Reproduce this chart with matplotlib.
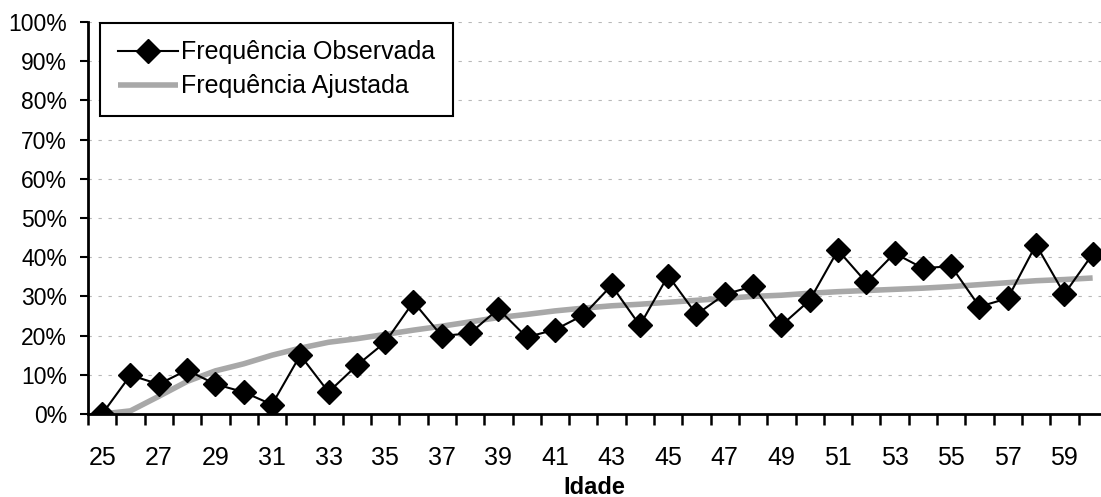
import matplotlib
matplotlib.use("Agg")
import matplotlib.pyplot as plt
from matplotlib.ticker import PercentFormatter

# idades 25..60
idade = list(range(25, 61))

# frequencia observada (fraccao)
freq_obs = [0.000, 0.099, 0.076, 0.112, 0.076, 0.056, 0.024, 0.150, 0.056, 0.124,
            0.183, 0.286, 0.199, 0.206, 0.268, 0.196, 0.215, 0.252, 0.328, 0.226,
            0.353, 0.254, 0.305, 0.326, 0.226, 0.290, 0.418, 0.336, 0.410, 0.372,
            0.377, 0.274, 0.295, 0.432, 0.306, 0.408]

# frequencia ajustada
freq_aj = [0.000, 0.008, 0.045, 0.083, 0.110, 0.128, 0.150, 0.168, 0.183, 0.192,
           0.203, 0.214, 0.224, 0.235, 0.246, 0.254, 0.263, 0.270, 0.276, 0.280,
           0.285, 0.290, 0.295, 0.300, 0.303, 0.308, 0.312, 0.315, 0.318, 0.321,
           0.325, 0.330, 0.335, 0.340, 0.343, 0.347]

plt.rcParams['font.family'] = ['Liberation Sans', 'DejaVu Sans']

W, H = 1101, 497
fig = plt.figure(figsize=(W / 100, H / 100), dpi=100)
ax = fig.add_axes([88 / W, 1 - 414 / H, (W - 88) / W, 392 / H])

ax.plot(idade, freq_aj, color='#a8a8a8', lw=4, solid_capstyle='butt',
        label='Frequência Ajustada', zorder=2)
ax.plot(idade, freq_obs, color='black', lw=1.5, marker='D', markersize=12,
        label='Frequência Observada', zorder=3)

ax.set_xlim(24.5, 24.5 + (W - 88) / 28.3)
ax.set_ylim(0, 1)

ax.spines['top'].set_visible(False)
ax.spines['right'].set_visible(False)
ax.spines['left'].set_linewidth(2)
ax.spines['bottom'].set_linewidth(2)

ax.yaxis.set_major_formatter(PercentFormatter(1.0, decimals=0))
ax.set_yticks([i / 10 for i in range(11)])
ax.tick_params(axis='y', length=6, width=1.5, pad=9, labelsize=16.5)
ax.grid(axis='y', color='#b8b8b8', lw=0.8, ls=(0, (3, 6)))

# labels no centro das categorias, tracos entre elas
ax.set_xticks(idade[::2])
ax.set_xticks([a + 0.5 for a in idade[:-1]] + [24.5], minor=True)
ax.tick_params(axis='x', which='major', length=0, pad=23, labelsize=18)
ax.tick_params(axis='x', which='minor', length=8, width=1.8)
ax.set_xlabel('Idade', fontsize=17, fontweight='bold')
ax.xaxis.set_label_coords(0.5, -(476 - 414) / 392)

handles, labels = ax.get_legend_handles_labels()
leg = ax.legend(handles[::-1], labels[::-1], loc='upper left',
                bbox_to_anchor=(100 / W, 1 - 23 / H), bbox_transform=fig.transFigure,
                borderaxespad=0, fontsize=18, frameon=True, fancybox=False,
                handlelength=2.4, handletextpad=0.15, labelspacing=0.4, borderpad=0.7)
leg.get_frame().set_edgecolor('black')
leg.get_frame().set_linewidth(1.5)
leg.get_frame().set_alpha(1)

fig.savefig('out.png', dpi=100)
